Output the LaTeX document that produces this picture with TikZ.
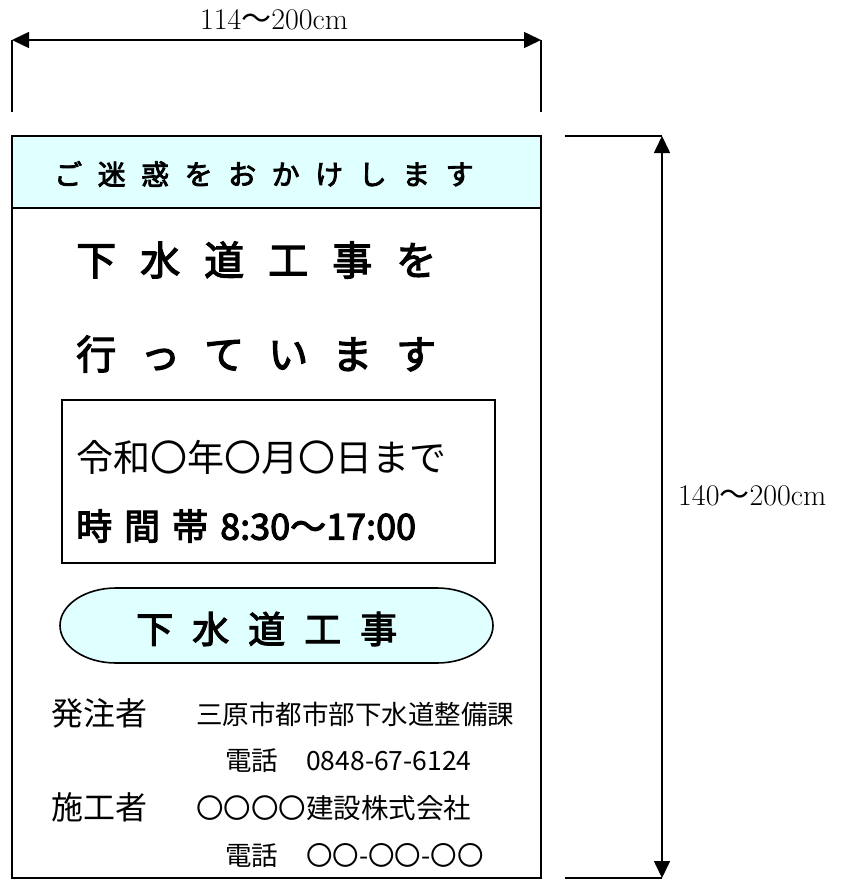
\documentclass[tikz,border=0pt]{standalone}
\usepackage{fontspec}
\newfontfamily\cjk{Noto Sans CJK JP}
\newfontfamily\cjkb[FakeBold=3]{Noto Sans CJK JP}
\usetikzlibrary{arrows.meta}

\definecolor{signcyan}{HTML}{E0FFFF}
\newlength{\gapwd}
\newcommand{\gap}{\hspace{\gapwd}}
\newcommand{\fs}[1]{\fontsize{#1}{#1}\selectfont}

\tikzset{
  dimline/.style={line width=1.6pt,{Triangle[length=17pt,width=16pt]}-{Triangle[length=17pt,width=16pt]}},
  thinline/.style={line width=1.6pt},
  jtext/.style={font=\cjk,inner sep=0pt,anchor=west},
  dimtext/.style={inner sep=0pt,font=\fs{30}},
}

\begin{document}
\begin{tikzpicture}[x=1pt,y=-1pt]
\useasboundingbox (0,0) rectangle (842,880);
%----width dimension-----------------------------
\coordinate (wl) at (12,40);
\coordinate (wr) at (541,40);
\draw[thinline] (12,40) -- (12,112) (541,40) -- (541,112);
\draw[dimline] (wl) -- (wr);
\node[dimtext] (wlab) at (274,20) {114{\cjk ～}200cm};
%----height dimension----------------------------
\coordinate (ht) at (662,136);
\coordinate (hb) at (662,878);
\draw[thinline] (565,136) -- (ht) (565,878) -- (hb);
\draw[dimline] (ht) -- (hb);
\node[dimtext,anchor=west] (hlab) at (678,496) {140{\cjk ～}200cm};
%----board and header----------------------------
\draw[thinline,fill=signcyan] (12,136) rectangle (541,208);
\draw[thinline] (12,208) -- (12,878) -- (541,878) -- (541,208);
\node[jtext,font=\cjkb\fs{28}] (head) at (54,174)
  {\setlength{\gapwd}{15.5pt}ご\gap 迷\gap 惑\gap を\gap お\gap か\gap け\gap し\gap ま\gap す};
%----main text-----------------------------------
\node[jtext,font=\cjkb\fs{40}] (line1) at (76,260)
  {\setlength{\gapwd}{24pt}下\gap 水\gap 道\gap 工\gap 事\gap を};
\node[jtext,font=\cjkb\fs{40}] (line2) at (76,354)
  {\setlength{\gapwd}{24pt}行\gap っ\gap て\gap い\gap ま\gap す};
%----period box----------------------------------
\draw[thinline] (62,400) rectangle (495,563);
\node[jtext,font=\cjk\fs{37}] (date) at (76,457) {令和〇年〇月〇日まで};
\node[jtext,font=\cjkb\fs{36}] (hours) at (76,526)
  {\setlength{\gapwd}{12pt}時\gap 間\gap 帯\gap 8:30～17:00};
%----works oval----------------------------------
\draw[thinline,fill=signcyan] (116,588) -- (437,588)
  arc[start angle=-90,end angle=90,x radius=56,y radius=37.5] -- (116,663)
  arc[start angle=90,end angle=270,x radius=56,y radius=37.5] -- cycle;
\node[jtext,font=\cjkb\fs{37}] (works) at (136,629)
  {\setlength{\gapwd}{19pt}下\gap 水\gap 道\gap 工\gap 事};
%----owner and contractor------------------------
\node[jtext,font=\cjk\fs{32}] (own) at (51,713) {発注者};
\node[jtext,font=\cjk\fs{26.5}] (ownname) at (196,714) {三原市都市部下水道整備課};
\node[jtext,font=\cjk\fs{26.5}] (owntel) at (225,761) {電話\hspace{28pt}0848-67-6124};
\node[jtext,font=\cjk\fs{32}] (con) at (51,807) {施工者};
\node[jtext,font=\cjk\fs{27.5}] (conname) at (196,808) {〇〇〇〇建設株式会社};
\node[jtext,font=\cjk\fs{26.5}] (contel) at (225,856) {電話\hspace{28pt}〇〇-〇〇-〇〇};
\end{tikzpicture}
\end{document}
